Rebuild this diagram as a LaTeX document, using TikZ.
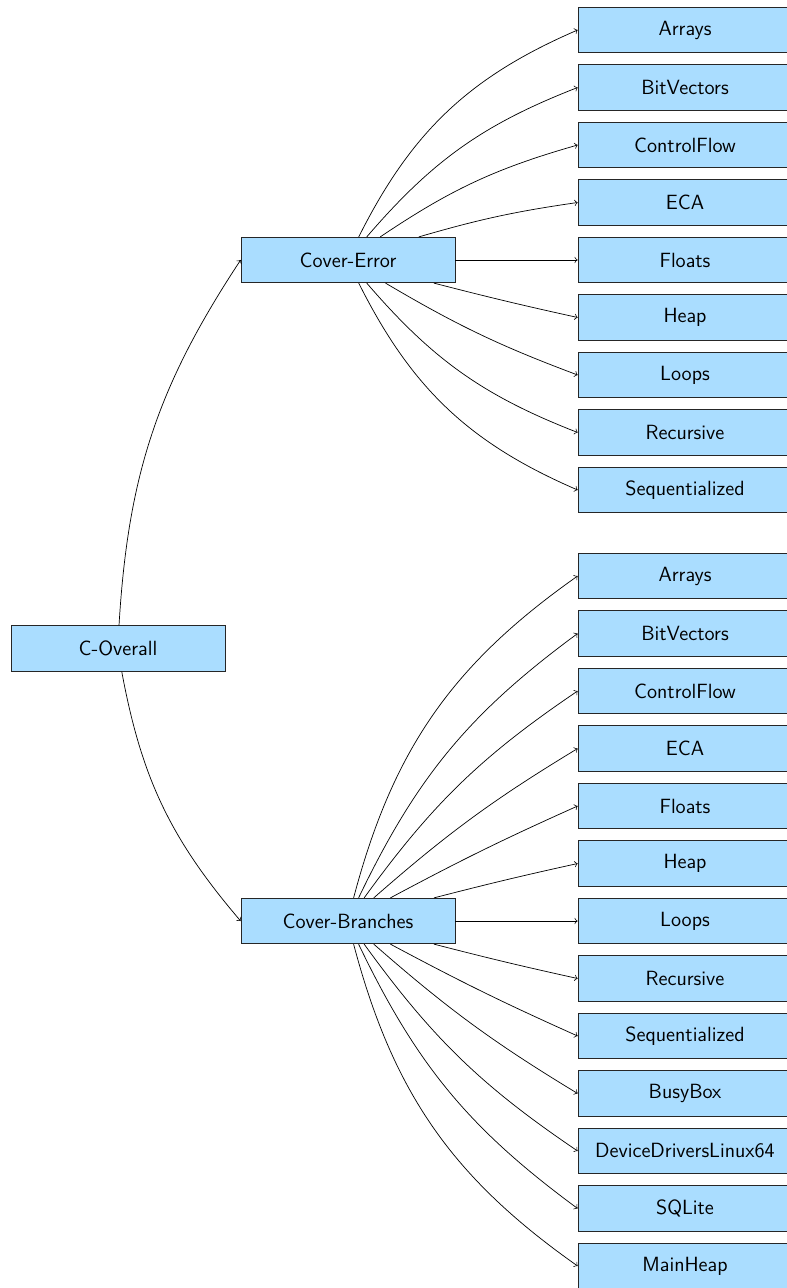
\documentclass[tikz,border=0pt]{standalone}
\usetikzlibrary{positioning}

\definecolor{suiteblue}{RGB}{170,221,255}

\begin{document}
\begin{tikzpicture}[
	% Style for the boxes of the tree
	suite/.style={
		rectangle,
		draw=black!85,
		thin,
		fill=suiteblue,
		align=center,
		font=\sffamily\fontsize{11.7pt}{14pt}\selectfont,
		minimum width=4.28cm,
		minimum height=0.91cm
	},
	% Style for the connectors
	link/.style={
		->,
		black
	}
	]
	% fixed frame, the right column is cut by it
	\useasboundingbox (0,0) rectangle (15.72,-25.76);
	
	\node[suite] (CO) at (2.36,-12.97) {C-Overall};
	\node[suite] (CE) at (6.96,-5.2) {Cover-Error};
	\node[suite] (CB) at (6.96,-18.42) {Cover-Branches};
	
	% children of Cover-Error
	\node[suite] (eAr) at (13.7,-0.6) {Arrays};
	\node[suite] (eBV) at (13.7,-1.75) {BitVectors};
	\node[suite] (eCF) at (13.7,-2.9) {ControlFlow};
	\node[suite] (eECA) at (13.7,-4.05) {ECA};
	\node[suite] (eFl) at (13.7,-5.2) {Floats};
	\node[suite] (eHe) at (13.7,-6.35) {Heap};
	\node[suite] (eLo) at (13.7,-7.5) {Loops};
	\node[suite] (eRe) at (13.7,-8.65) {Recursive};
	\node[suite] (eSe) at (13.7,-9.8) {Sequentialized};
	
	% children of Cover-Branches
	\node[suite] (bAr) at (13.7,-11.52) {Arrays};
	\node[suite] (bBV) at (13.7,-12.67) {BitVectors};
	\node[suite] (bCF) at (13.7,-13.82) {ControlFlow};
	\node[suite] (bECA) at (13.7,-14.97) {ECA};
	\node[suite] (bFl) at (13.7,-16.12) {Floats};
	\node[suite] (bHe) at (13.7,-17.27) {Heap};
	\node[suite] (bLo) at (13.7,-18.42) {Loops};
	\node[suite] (bRe) at (13.7,-19.57) {Recursive};
	\node[suite] (bSe) at (13.7,-20.72) {Sequentialized};
	\node[suite] (bBB) at (13.7,-21.87) {BusyBox};
	\node[suite] (bDD) at (13.7,-23.02) {DeviceDriversLinux64};
	\node[suite] (bSQ) at (13.7,-24.17) {SQLite};
	\node[suite] (bMH) at (13.7,-25.32) {MainHeap};
	
	% root to the two properties
	\draw[link] (CO) to[bend left=15] (CE.west);
	\draw[link] (CO) to[bend right=15] (CB.west);
	
	% Cover-Error fan
	\foreach \n/\b in {eAr/20, eBV/14, eCF/9, eECA/4}{
		\draw[link] (CE) to[bend left=\b] (\n.west);
	}
	\draw[link] (CE) -- (eFl);
	\foreach \n/\b in {eHe/1, eLo/5, eRe/14, eSe/20}{
		\draw[link] (CE) to[bend right=\b] (\n.west);
	}
	
	% Cover-Branches fan
	\foreach \n/\b in {bAr/20, bBV/14, bCF/10, bECA/5, bFl/2, bHe/1}{
		\draw[link] (CB) to[bend left=\b] (\n.west);
	}
	\draw[link] (CB) -- (bLo);
	\foreach \n/\b in {bRe/1, bSe/2, bBB/5, bDD/10, bSQ/14, bMH/20}{
		\draw[link] (CB) to[bend right=\b] (\n.west);
	}
	
\end{tikzpicture}
\end{document}
